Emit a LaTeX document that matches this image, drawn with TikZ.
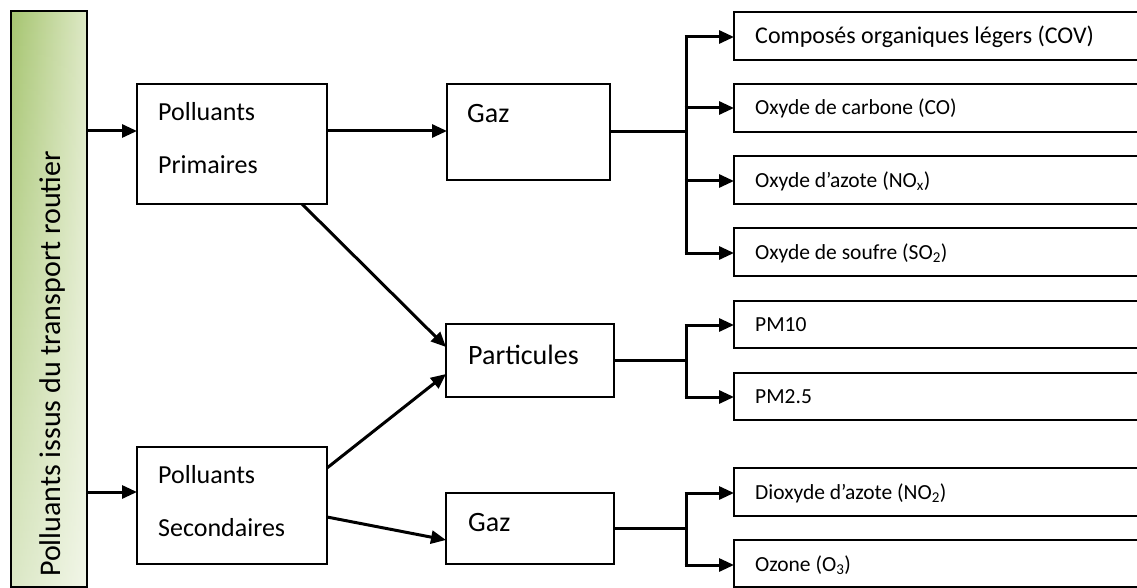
\documentclass[tikz,border=0pt]{standalone}
\usepackage{fontspec}
\setmainfont{Carlito}
\usetikzlibrary{arrows.meta,positioning,calc,fadings}
\definecolor{gtop}{RGB}{166,197,112}
\definecolor{gbot}{RGB}{222,233,198}
\tikzset{
  box/.style={draw=black,line width=2pt,fill=white,inner sep=0pt,outer sep=0pt},
  conn/.style={line width=3pt,draw=black},
  arr/.style={conn,-{Triangle[length=15pt,width=13pt]}},
  bigtxt/.style={font=\fontsize{28}{32}\selectfont,inner sep=0pt,anchor=west},
  midtxt/.style={font=\fontsize{26}{30}\selectfont,inner sep=0pt,anchor=west},
  smltxt/.style={font=\fontsize{21.5}{25}\selectfont,inner sep=0pt,anchor=west},
}
\newcommand{\mkbox}[5]{\node[box,minimum width=#4-#2,minimum height=#5-#3,anchor=north west] (#1) at (#2,#3) {};}
\begin{document}
\begin{tikzpicture}[x=1pt,y=-1pt]
\useasboundingbox (0,0) rectangle (1137,588);
\begin{scope}
\clip (0,0) rectangle (1137,588);
% left bar
\node[inner sep=0pt,outer sep=0pt,minimum width=76pt,minimum height=576pt,anchor=north west,left color=gtop,right color=gbot] (bar) at (11,11) {};
\fill[white,path fading=north,fill opacity=0.6] (bar.north west) rectangle (bar.south east);
\draw[line width=1.8pt] (bar.north west) rectangle (bar.south east);
\node[rotate=90,font=\fontsize{30}{34}\selectfont,inner sep=0pt,anchor=west] (bartxt) at (53,577) {Polluants issus du transport routier};
% boxes
\mkbox{pp}{137}{84}{327}{204}
\mkbox{ps}{137}{447}{327}{564}
\mkbox{ga}{447}{84}{610}{180}
\mkbox{pa}{446}{324}{614}{397}
\mkbox{gb}{446}{493}{614}{564}
\mkbox{r1}{734}{12}{1145}{60}
\mkbox{r2}{734}{84}{1145}{132}
\mkbox{r3}{734}{156}{1145}{204}
\mkbox{r4}{734}{228}{1145}{276}
\mkbox{r5}{734}{301}{1145}{348}
\mkbox{r6}{734}{373}{1145}{420}
\mkbox{r7}{734}{468}{1145}{516}
\mkbox{r8}{734}{540}{1145}{587}
\end{scope}
% labels
\node[midtxt] (ppt1) at (158,112) {Polluants};
\node[midtxt] (ppt2) at (158,165) {Primaires};
\node[midtxt] (pst1) at (158,475) {Polluants};
\node[midtxt] (pst2) at (158,528) {Secondaires};
\node[bigtxt] (gat) at (467,114) {Gaz};
\node[bigtxt] (pat) at (468,355) {Particules};
\node[bigtxt] (gbt) at (468,523) {Gaz};
\node[smltxt,font=\fontsize{24}{28}\selectfont] (r1t) at (755,37) {Composés organiques légers (COV)};
\node[smltxt] (r2t) at (755,108) {Oxyde de carbone (CO)};
\node[smltxt] (r3t) at (755,181) {Oxyde d’azote (NO\textsubscript{x})};
\node[smltxt] (r4t) at (755,253) {Oxyde de soufre (SO\textsubscript{2})};
\node[smltxt] (r5t) at (755,325) {PM10};
\node[smltxt] (r6t) at (755,397) {PM2.5};
\node[smltxt] (r7t) at (755,493) {Dioxyde d’azote (NO\textsubscript{2})};
\node[smltxt] (r8t) at (755,565) {Ozone (O\textsubscript{3})};
% connectors
\draw[arr] (bar.east |- 0,131) -- (pp.west |- 0,131);
\draw[arr] (bar.east |- 0,492) -- (ps.west |- 0,492);
\draw[arr] (pp.east |- 0,131) -- (ga.west |- 0,131);
\draw[arr] (pp.south -| 302,0) -- (pa.west |- 0,347);
\draw[arr] (ps.east |- 0,468) -- (pa.west |- 0,374);
\draw[arr] (ps.east |- 0,517) -- (gb.west |- 0,540);
% bracket 1
\coordinate (b1) at (686,132);
\draw[conn] (ga.east |- b1) -- (b1);
\draw[conn] (686,37) -- (686,253);
\foreach \r/\y in {r1/37,r2/108,r3/181,r4/253}{
  \draw[arr] (684.5,\y) -- (\r.west |- 0,\y);
}
% bracket 2
\coordinate (b2) at (686,360);
\draw[conn] (pa.east |- b2) -- (b2);
\draw[conn] (686,325) -- (686,397);
\foreach \r/\y in {r5/325,r6/397}{
  \draw[arr] (684.5,\y) -- (\r.west |- 0,\y);
}
% bracket 3
\coordinate (b3) at (686,528);
\draw[conn] (gb.east |- b3) -- (b3);
\draw[conn] (686,493) -- (686,565);
\foreach \r/\y in {r7/493,r8/565}{
  \draw[arr] (684.5,\y) -- (\r.west |- 0,\y);
}
\end{tikzpicture}
\end{document}
